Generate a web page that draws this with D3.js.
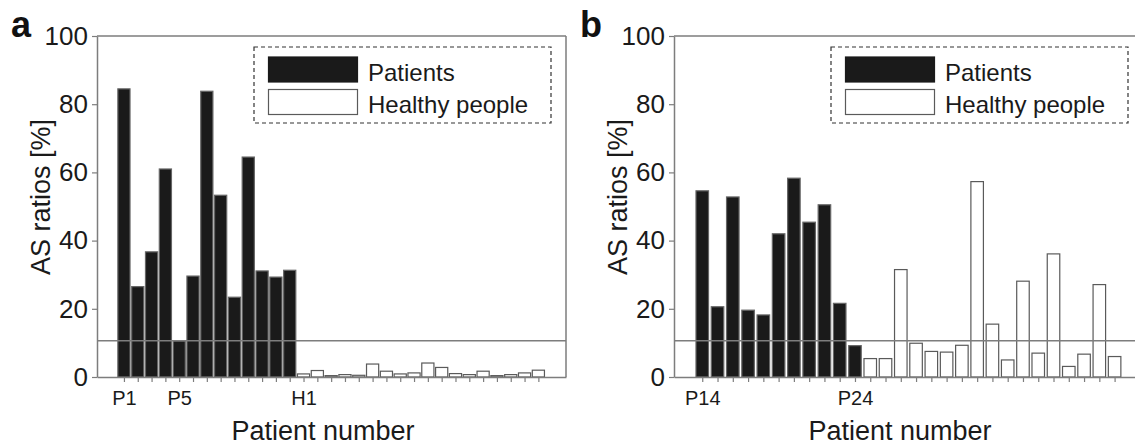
<!DOCTYPE html>
<html>
<head>
<meta charset="utf-8">
<title>AS ratios</title>
<script src="https://d3js.org/d3.v7.min.js"></script>
<style>
    body { margin: 0; background: #fff; }
    svg { display: block; font-family: "Liberation Sans", Arial, sans-serif; }
</style>
</head>
<body>
<script>
    // panel a
    var patientsA = ["P1", "P2", "P3", "P4", "P5", "P6", "P7", "P8", "P9", "P10", "P11", "P12", "P13"];
    var patientValuesA = [84.5, 26.5, 36.7, 61.0, 10.6, 29.6, 83.8, 53.3, 23.4, 64.5, 31.1, 29.3, 31.3];
    var healthyA = ["H1", "H2", "H3", "H4", "H5", "H6", "H7", "H8", "H9", "H10", "H11", "H12", "H13", "H14", "H15", "H16", "H17", "H18"];
    var healthyValuesA = [0.9, 1.9, 0.4, 0.7, 0.5, 3.8, 1.7, 0.9, 1.2, 4.1, 2.8, 1.0, 0.7, 1.7, 0.4, 0.7, 1.2, 2.0];
    var shownA = ["P1", "P5", "H1"];

    // panel b
    var patientsB = ["P14", "P15", "P16", "P17", "P18", "P19", "P20", "P21", "P22", "P23", "P24"];
    var patientValuesB = [54.6, 20.6, 52.8, 19.6, 18.2, 42.0, 58.3, 45.4, 50.5, 21.6, 9.2];
    var healthyB = ["H19", "H20", "H21", "H22", "H23", "H24", "H25", "H26", "H27", "H28", "H29", "H30", "H31", "H32", "H33", "H34", "H35"];
    var healthyValuesB = [5.4, 5.4, 31.5, 9.9, 7.5, 7.3, 9.3, 57.3, 15.5, 5.0, 28.1, 7.0, 36.1, 3.1, 6.7, 27.1, 6.0];
    var shownB = ["P14", "P24"];

    var yTicks = [0, 20, 40, 60, 80, 100];
    var cutoff = 10.6;
    var legendLabels = ["Patients", "Healthy people"];

    var grey = "#7d7d7d";
    var dark = "#1a1a1a";

    var svg = d3.select("body").append("svg")
        .attr("width", 1135)
        .attr("height", 446);

    function panel(opt) {
        var rows = [];
        opt.patients.forEach(function(p, i) {
            rows.push({ name: p, value: opt.patientValues[i], sick: true });
        });
        opt.healthy.forEach(function(h, i) {
            rows.push({ name: h, value: opt.healthyValues[i], sick: false });
        });
        rows.forEach(function(d, i) { d.i = i; });

        var x = d3.scaleLinear().domain(opt.domain).range([opt.left, opt.right]);
        var y = d3.scaleLinear().domain([0, 100]).range([377, 36]);
        var step = x(1) - x(0);
        var bw = step * opt.barFrac;

        var g = svg.append("g");

        // frame top / right
        g.append("line")
            .attr("x1", opt.left).attr("x2", opt.right)
            .attr("y1", y(100)).attr("y2", y(100))
            .attr("stroke", grey).attr("stroke-width", 1.5);
        g.append("line")
            .attr("x1", opt.right).attr("x2", opt.right)
            .attr("y1", y(100)).attr("y2", y(0))
            .attr("stroke", grey).attr("stroke-width", 1.5);

        g.selectAll("rect.bar")
            .data(rows)
            .enter()
            .append("rect")
            .attr("class", "bar")
            .attr("x", function(d) { return x(d.i) - bw / 2; })
            .attr("y", function(d) { return y(d.value); })
            .attr("width", bw)
            .attr("height", function(d) { return y(0) - y(d.value); })
            .attr("fill", function(d) { return d.sick ? dark : "#fff"; })
            .attr("stroke", function(d) { return d.sick ? "#666" : "#5a5a5a"; })
            .attr("stroke-width", 1.2);

        // cutoff line
        g.append("line")
            .attr("x1", opt.left).attr("x2", opt.right)
            .attr("y1", y(cutoff)).attr("y2", y(cutoff))
            .attr("stroke", grey).attr("stroke-width", 1.5);

        var yAxis = g.append("g")
            .attr("transform", "translate(" + opt.left + ",0)")
            .call(d3.axisLeft(y).tickValues(yTicks).tickSize(5).tickSizeOuter(0).tickPadding(4));

        var xAxis = g.append("g")
            .attr("transform", "translate(0," + y(0) + ")")
            .call(d3.axisBottom(x)
                .tickValues(rows.map(function(d) { return d.i; }))
                .tickFormat(function(i) { return opt.shown.indexOf(rows[i].name) >= 0 ? rows[i].name : ""; })
                .tickSize(5).tickSizeOuter(0).tickPadding(9));

        [yAxis, xAxis].forEach(function(ax) {
            ax.select(".domain").attr("stroke", grey).attr("stroke-width", 1.5);
            ax.selectAll(".tick line").attr("stroke", grey).attr("stroke-width", 1.2);
            ax.selectAll("text").attr("fill", "#1a1a1a").attr("font-family", "Liberation Sans, Arial, sans-serif");
        });
        yAxis.selectAll("text").attr("font-size", 26);
        xAxis.selectAll("text").attr("font-size", 20);

        // axis titles
        g.append("text")
            .attr("transform", "translate(" + (opt.left - 47) + ",197) rotate(-90)")
            .attr("text-anchor", "middle")
            .attr("font-size", 27)
            .attr("fill", "#1a1a1a")
            .text("AS ratios [%]");
        g.append("text")
            .attr("x", opt.left + 226)
            .attr("y", 440)
            .attr("text-anchor", "middle")
            .attr("font-size", 27)
            .attr("fill", "#1a1a1a")
            .text("Patient number");

        // panel letter
        g.append("text")
            .attr("x", opt.letterX)
            .attr("y", 37)
            .attr("font-size", 36)
            .attr("font-weight", "bold")
            .attr("fill", "#111")
            .text(opt.letter);

        // legend
        var lg = g.append("g").attr("transform", "translate(" + (opt.left + 157) + ",47)");
        lg.append("rect")
            .attr("width", 297).attr("height", 76)
            .attr("fill", "#fff")
            .attr("stroke", "#333").attr("stroke-width", 1.2)
            .attr("stroke-dasharray", "4,3");
        legendLabels.forEach(function(label, k) {
            lg.append("rect")
                .attr("x", 14.5).attr("y", 10 + k * 32.5)
                .attr("width", 89).attr("height", 25)
                .attr("fill", k === 0 ? dark : "#fff")
                .attr("stroke", k === 0 ? dark : "#5a5a5a")
                .attr("stroke-width", 1.2);
            lg.append("text")
                .attr("x", 114)
                .attr("y", 34 + k * 32)
                .attr("font-size", 24)
                .attr("fill", "#1a1a1a")
                .text(label);
        });
    }

    panel({
        letter: "a", letterX: 11,
        left: 97, right: 566, domain: [-1.95, 32], barFrac: 0.88,
        patients: patientsA, patientValues: patientValuesA,
        healthy: healthyA, healthyValues: healthyValuesA, shown: shownA
    });

    panel({
        letter: "b", letterX: 580,
        left: 674, right: 1165, domain: [-1.85, 30.3], barFrac: 0.82,
        patients: patientsB, patientValues: patientValuesB,
        healthy: healthyB, healthyValues: healthyValuesB, shown: shownB
    });
</script>
</body>
</html>
